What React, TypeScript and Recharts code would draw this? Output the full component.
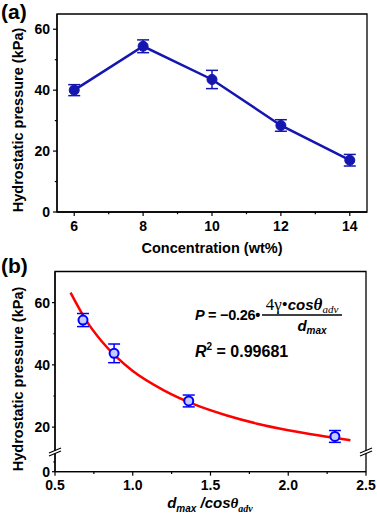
import React from 'react';
import { ComposedChart, Line, Scatter, XAxis, YAxis, ErrorBar, ReferenceDot, ReferenceArea } from 'recharts';

const FONT = '"Liberation Sans", Arial, sans-serif';
const SERIF = '"Liberation Serif", "Times New Roman", serif';
const NAVY = '#1515b0';
const BLUE = '#0000ff';
const RED = '#ff0000';

// (a) hydrostatic pressure vs concentration
const concentration = [6, 8, 10, 12, 14];
const pressureA = [40.0, 54.4, 43.5, 28.4, 17.0];
const errorA = [1.8, 2.1, 3.0, 1.9, 1.9];
const xTicksA = [6, 7, 8, 9, 10, 11, 12, 13, 14];
const xMajorA = [6, 8, 10, 12, 14];
const yTicksA = [0, 10, 20, 30, 40, 50, 60];
const yMajorA = [0, 20, 40, 60];

// (b) hydrostatic pressure vs dmax / cos(theta_adv)
const ratioB = [0.68, 0.88, 1.36, 2.3];
const pressureB = [54.4, 43.7, 28.4, 17.0];
const errorB = [2.1, 3.0, 1.9, 1.9];
// fitted curve
const fitX = [0.6, 0.7, 0.8, 0.9, 1.0, 1.2, 1.4, 1.6, 1.8, 2.0, 2.2, 2.4];
const fitY = [63.2, 54.3, 47.6, 42.3, 38.0, 31.8, 27.2, 23.8, 21.1, 19.0, 17.3, 15.8];
const xTicksB = [0.5, 0.75, 1, 1.25, 1.5, 1.75, 2, 2.25, 2.5];
const xMajorB = [0.5, 1, 1.5, 2, 2.5];
const yTicksB = [0, 2.5, 20, 30, 40, 50, 60];
const yMajorB = [0, 20, 40, 60];

const dataA = concentration.map((c, i) => ({ x: c, y: pressureA[i], err: errorA[i] }));
const pointsB = ratioB.map((r, i) => ({ x: r, y: pressureB[i], err: errorB[i] }));
const fitB = fitX.map((x, i) => ({ x, y: fitY[i] }));

// broken y axis for (b): 0..5 below the break, 12..70 above it
const LOW_TOP = 5;
const HIGH_BOTTOM = 12;
const LOW_SHARE = 0.0984;

function brokenScale(dom: number[] = [0, 70], rng: number[] = [1, 0]): any {
  const frac = (v: number) => {
    if (v <= LOW_TOP) return (v / LOW_TOP) * LOW_SHARE;
    if (v >= HIGH_BOTTOM) return LOW_SHARE + ((v - HIGH_BOTTOM) / (dom[1] - HIGH_BOTTOM)) * (1 - LOW_SHARE);
    return LOW_SHARE;
  };
  const s: any = (v: number) => rng[0] + frac(v) * (rng[1] - rng[0]);
  s.domain = (d?: number[]) => {
    if (d === undefined) return dom;
    dom = d.slice();
    return s;
  };
  s.range = (r?: number[]) => {
    if (r === undefined) return rng;
    rng = r.slice();
    return s;
  };
  s.copy = () => brokenScale(dom.slice(), rng.slice());
  s.ticks = () => yMajorB;
  s.tickFormat = () => (v: number) => String(v);
  return s;
}

const AXIS = { stroke: '#000', strokeWidth: 1.3 };

function xTick(majors: number[], size: number, margin: number, fs: number, fmt: (v: number) => string) {
  return (p: any) => {
    const v = p.payload.value;
    const major = majors.includes(v);
    const y0 = p.y - size - margin;
    return (
      <g>
        <line x1={p.x} x2={p.x} y1={y0} y2={y0 + (major ? size : size * 0.55)} stroke="#000" strokeWidth={1.2} />
        {major && (
          <text x={p.x} y={p.y} dy="0.71em" textAnchor="middle" fontFamily={FONT} fontWeight="bold" fontSize={fs} fill="#000">
            {fmt(v)}
          </text>
        )}
      </g>
    );
  };
}

function yTick(majors: number[], size: number, margin: number, fs: number) {
  return (p: any) => {
    const v = p.payload.value;
    const major = majors.includes(v);
    const x0 = p.x + size + margin;
    return (
      <g>
        <line x1={x0} x2={x0 - (major ? size : size * 0.55)} y1={p.y} y2={p.y} stroke="#000" strokeWidth={1.2} />
        {major && (
          <text x={p.x} y={p.y} dy="0.35em" textAnchor="end" fontFamily={FONT} fontWeight="bold" fontSize={fs} fill="#000">
            {v}
          </text>
        )}
      </g>
    );
  };
}

const BreakMark = (p: any) => {
  const { cx, cy } = p;
  return (
    <g>
      <polygon points={`${cx - 6},${cy + 1} ${cx + 6},${cy - 4} ${cx + 6},${cy - 1} ${cx - 6},${cy + 4}`} fill="#fff" />
      <line x1={cx - 6} y1={cy + 1} x2={cx + 6} y2={cy - 4} stroke="#000" strokeWidth={1.2} />
      <line x1={cx - 6} y1={cy + 4} x2={cx + 6} y2={cy - 1} stroke="#000" strokeWidth={1.2} />
    </g>
  );
};

const OpenDot = (p: any) => (
  <circle cx={p.cx} cy={p.cy} r={4.5} fill="#c4ccff" stroke={BLUE} strokeWidth={2} />
);

function PanelA() {
  return (
    <ComposedChart width={377} height={255} data={dataA} margin={{ top: 14, right: 10, bottom: 13, left: 0 }}>
      <XAxis
        dataKey="x"
        type="number"
        domain={[5.5, 14.5]}
        ticks={xTicksA}
        interval={0}
        tickSize={4}
        tickMargin={5}
        tickLine={false}
        tick={xTick(xMajorA, 4, 5, 14, (v) => String(v))}
        axisLine={AXIS}
        height={30}
        allowDataOverflow
      />
      <YAxis
        type="number"
        domain={[0, 65]}
        ticks={yTicksA}
        interval={0}
        tickSize={4}
        tickMargin={3}
        tickLine={false}
        tick={yTick(yMajorA, 4, 3, 14)}
        axisLine={AXIS}
        width={57}
        allowDataOverflow
      />
      <ReferenceArea x1={5.5} x2={14.5} y1={0} y2={65} fill="none" stroke="#000" strokeWidth={1.3} ifOverflow="visible" />
      <Line
        dataKey="y"
        type="linear"
        stroke={NAVY}
        strokeWidth={2.5}
        dot={{ r: 5, fill: NAVY, stroke: NAVY, strokeWidth: 1 }}
        activeDot={false}
        isAnimationActive={false}
      >
        <ErrorBar dataKey="err" direction="y" width={6} stroke={NAVY} strokeWidth={1.5} />
      </Line>
    </ComposedChart>
  );
}

function PanelB() {
  return (
    <ComposedChart width={377} height={263} margin={{ top: 16.5, right: 11, bottom: 16.3, left: 0 }}>
      <XAxis
        dataKey="x"
        type="number"
        domain={[0.5, 2.5]}
        ticks={xTicksB}
        interval={0}
        tickSize={4}
        tickMargin={4}
        tickLine={false}
        tick={xTick(xMajorB, 4, 4, 14, (v) => v.toFixed(1))}
        axisLine={AXIS}
        height={30}
        allowDataOverflow
      />
      <YAxis
        dataKey="y"
        type="number"
        scale={brokenScale()}
        domain={[0, 70]}
        ticks={yTicksB}
        interval={0}
        tickSize={3}
        tickMargin={2}
        tickLine={false}
        tick={yTick(yMajorB, 3, 2, 14)}
        axisLine={AXIS}
        width={55}
        allowDataOverflow
      />
      <ReferenceArea x1={0.5} x2={2.5} y1={0} y2={70} fill="none" stroke="#000" strokeWidth={1.3} ifOverflow="visible" />
      <Line
        data={fitB}
        dataKey="y"
        type="monotone"
        stroke={RED}
        strokeWidth={2.5}
        dot={false}
        activeDot={false}
        isAnimationActive={false}
      />
      <Scatter data={pointsB} dataKey="y" shape={OpenDot} isAnimationActive={false}>
        <ErrorBar dataKey="err" direction="y" width={6} stroke={BLUE} strokeWidth={1.5} />
      </Scatter>
      <ReferenceDot x={0.5} y={LOW_TOP} r={0} ifOverflow="visible" shape={BreakMark} />
      <ReferenceDot x={2.5} y={LOW_TOP} r={0} ifOverflow="visible" shape={BreakMark} />
    </ComposedChart>
  );
}

function Labels() {
  const bold = { fontFamily: FONT, fontWeight: 'bold' as const, fill: '#000' };
  return (
    <svg width={377} height={518} style={{ position: 'absolute', left: 0, top: 0, pointerEvents: 'none' }}>
      <text x={1} y={19} fontSize={21} {...bold}>(a)</text>
      <text x={1} y={273} fontSize={21} {...bold}>(b)</text>

      <text x={212} y={253} fontSize={14.5} textAnchor="middle" {...bold}>Concentration (wt%)</text>
      <text x={23} y={120} fontSize={14.5} textAnchor="middle" transform="rotate(-90, 23, 120)" {...bold}>
        Hydrostatic pressure (kPa)
      </text>
      <text x={23} y={379} fontSize={14.5} textAnchor="middle" transform="rotate(-90, 23, 379)" {...bold}>
        Hydrostatic pressure (kPa)
      </text>

      <text x={210} y={508} fontSize={15} textAnchor="middle" fontStyle="italic" {...bold}>
        d<tspan fontSize={10} dy={4}>max</tspan>
        <tspan dy={-4}> /cos</tspan>
        <tspan fontFamily={SERIF}>θ</tspan>
        <tspan fontSize={10} dy={4} fontFamily={SERIF}>adv</tspan>
      </text>

      <text x={195} y={320} fontSize={14.5} letterSpacing={-0.3} {...bold}>
        <tspan fontStyle="italic">P</tspan> = −0.26•
      </text>
      <text x={302} y={310} fontSize={15} textAnchor="middle" {...bold}>
        <tspan fontFamily={SERIF} fontWeight="normal" fontSize={17}>4γ•</tspan>
        <tspan fontStyle="italic">cos</tspan>
        <tspan fontFamily={SERIF} fontStyle="italic" fontSize={17}>θ</tspan>
        <tspan fontFamily={SERIF} fontStyle="italic" fontWeight="normal" fontSize={11} dy={3}>adv</tspan>
      </text>
      <line x1={262} x2={342} y1={315} y2={315} stroke="#000" strokeWidth={1.3} />
      <text x={312} y={331} fontSize={15} textAnchor="middle" fontStyle="italic" {...bold}>
        d<tspan fontSize={10} dy={3}>max</tspan>
      </text>
      <text x={195} y={357} fontSize={16} {...bold}>
        <tspan fontStyle="italic">R</tspan>
        <tspan fontSize={10} dy={-7}>2</tspan>
        <tspan dy={7}> = 0.99681</tspan>
      </text>
    </svg>
  );
}

export default function App() {
  return (
    <div style={{ position: 'absolute', left: 0, top: 0, width: 377, height: 518, background: '#fff', overflow: 'hidden' }}>
      <div style={{ position: 'absolute', left: 0, top: 0 }}>
        <PanelA />
      </div>
      <div style={{ position: 'absolute', left: 0, top: 255 }}>
        <PanelB />
      </div>
      <Labels />
    </div>
  );
}
